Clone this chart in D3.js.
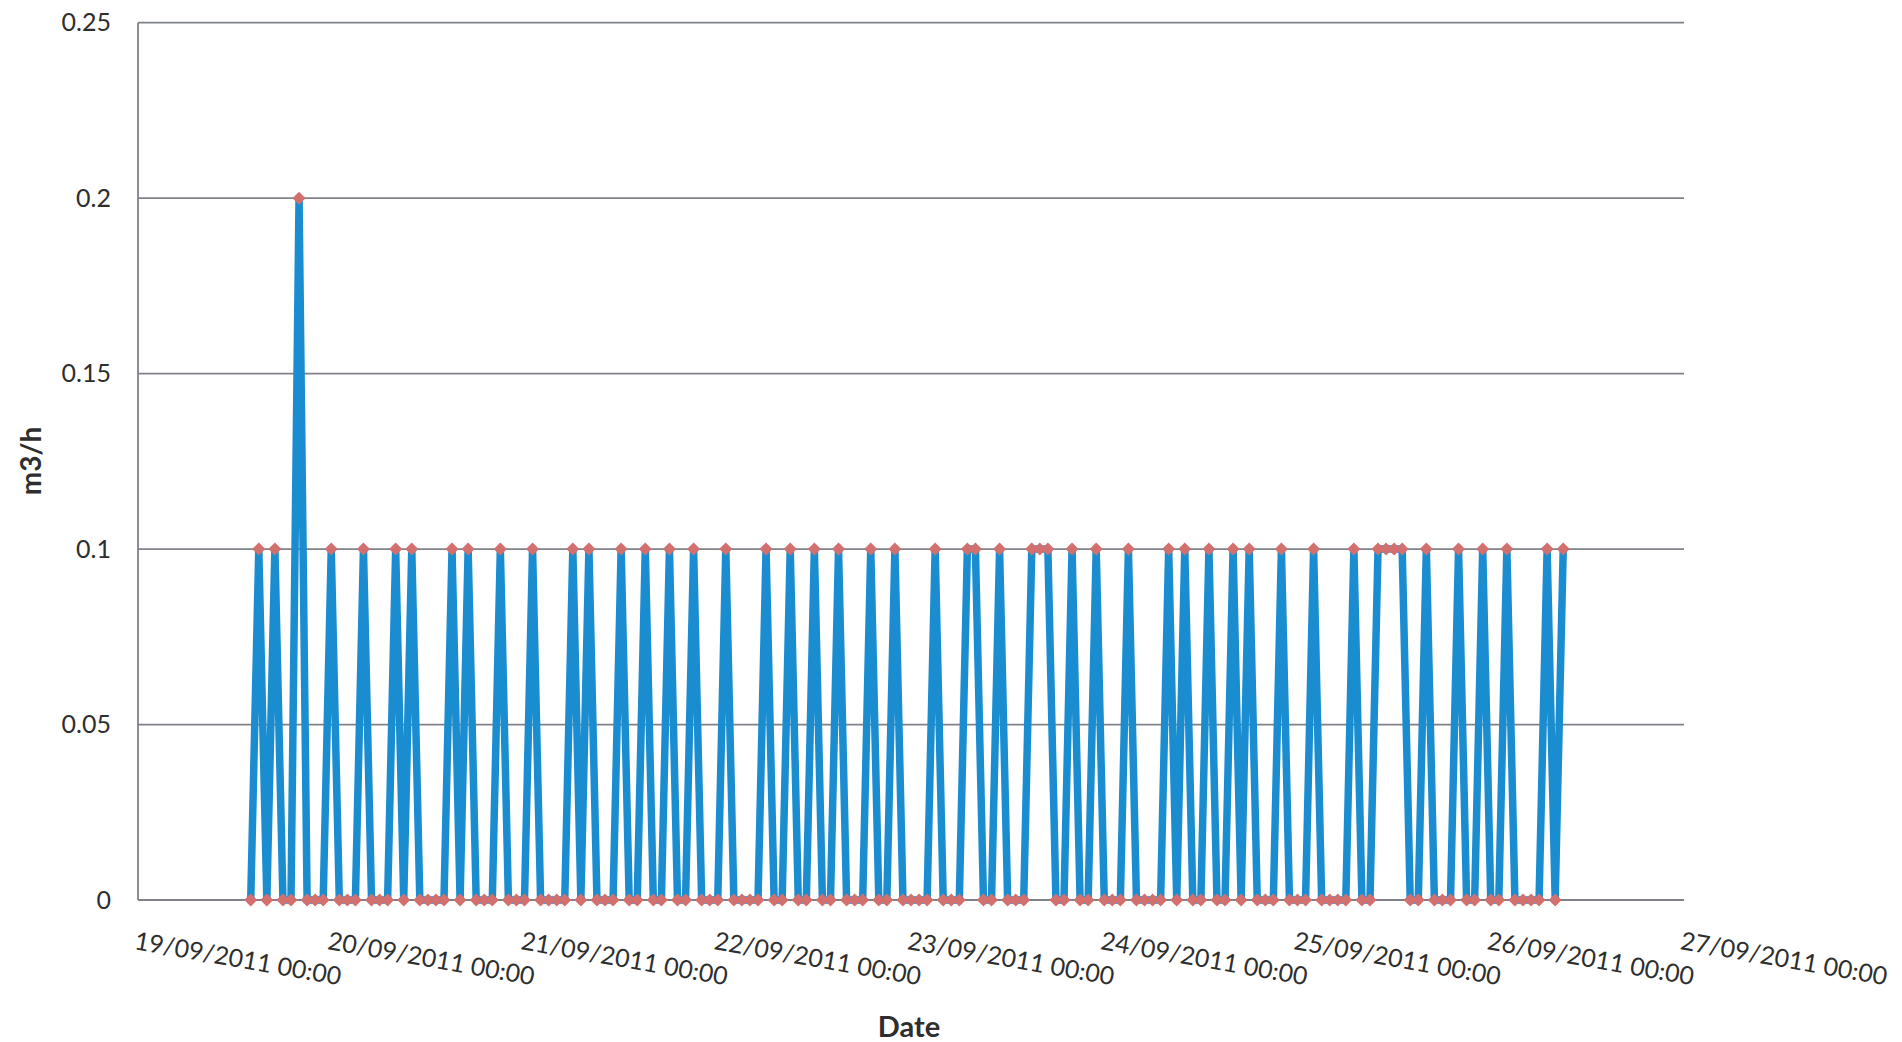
<!DOCTYPE html>
<html>
<head>
<meta charset="utf-8">
<script src="https://cdn.jsdelivr.net/npm/d3@7"></script>
<style>
  html, body { margin: 0; padding: 0; background: #ffffff; }
  svg { display: block; }
  text { font-family: Lato, "Open Sans", sans-serif; fill: #2e2e2e; }
</style>
</head>
<body>
<svg id="chart" width="1902" height="1042"></svg>
<script>
// ---- data ----
const seriesStart = "2011-09-19T14:00:00"; // first hourly reading
// hourly flow values (m3/h), one per hour from seriesStart
const flowValues = [
  // 19/09 14:00 - 23:00
  0, 0.1, 0, 0.1, 0, 0, 0.2, 0, 0, 0,
  // 20/09
  0.1, 0, 0, 0, 0.1, 0, 0, 0, 0.1, 0, 0.1, 0, 0, 0, 0, 0.1, 0, 0.1, 0, 0, 0, 0.1, 0, 0,
  // 21/09
  0, 0.1, 0, 0, 0, 0, 0.1, 0, 0.1, 0, 0, 0, 0.1, 0, 0, 0.1, 0, 0, 0.1, 0, 0, 0.1, 0, 0,
  // 22/09
  0, 0.1, 0, 0, 0, 0, 0.1, 0, 0, 0.1, 0, 0, 0.1, 0, 0, 0.1, 0, 0, 0, 0.1, 0, 0, 0.1, 0,
  // 23/09
  0, 0, 0, 0.1, 0, 0, 0, 0.1, 0.1, 0, 0, 0.1, 0, 0, 0, 0.1, 0.1, 0.1, 0, 0, 0.1, 0, 0, 0.1,
  // 24/09
  0, 0, 0, 0.1, 0, 0, 0, 0, 0.1, 0, 0.1, 0, 0, 0.1, 0, 0, 0.1, 0, 0.1, 0, 0, 0, 0.1, 0,
  // 25/09
  0, 0, 0.1, 0, 0, 0, 0, 0.1, 0, 0, 0.1, 0.1, 0.1, 0.1, 0, 0, 0.1, 0, 0, 0, 0.1, 0, 0, 0.1,
  // 26/09 00:00 - 09:00
  0, 0, 0.1, 0, 0, 0, 0, 0.1, 0, 0.1
];
const xTickLabels = ["2011-09-19", "2011-09-20", "2011-09-21", "2011-09-22", "2011-09-23",
                     "2011-09-24", "2011-09-25", "2011-09-26", "2011-09-27"];
const yTickValues = [0, 0.05, 0.1, 0.15, 0.2, 0.25];
const yAxisTitle = "m3/h";
const xAxisTitle = "Date";

// ---- build ----
const parseDT = d3.timeParse("%Y-%m-%dT%H:%M:%S");
const parseD = d3.timeParse("%Y-%m-%d");
const t0 = parseDT(seriesStart);
const points = flowValues.map((v, i) => ({ t: d3.timeHour.offset(t0, i), v: v }));
const xTicks = xTickLabels.map(parseD);

const L = 138, R = 1684, T = 22.7, B = 900;
const x = d3.scaleTime().domain([xTicks[0], xTicks[xTicks.length - 1]]).range([L, R]);
const y = d3.scaleLinear().domain([0, 0.25]).range([B, T]);

const svg = d3.select("#chart");
svg.append("rect").attr("width", 1902).attr("height", 1042).attr("fill", "#ffffff");

// gridlines
svg.append("g")
  .selectAll("line")
  .data(yTickValues)
  .join("line")
  .attr("x1", L).attr("x2", R)
  .attr("y1", d => y(d)).attr("y2", d => y(d))
  .attr("stroke", "#7f8288").attr("stroke-width", 1.8);

// left axis line
svg.append("line")
  .attr("x1", L).attr("x2", L).attr("y1", T).attr("y2", B)
  .attr("stroke", "#7f8288").attr("stroke-width", 1.8);

// y axis labels
const yAxis = svg.append("g")
  .attr("transform", `translate(${L},0)`)
  .call(d3.axisLeft(y).tickValues(yTickValues).tickSize(0).tickPadding(27).tickFormat(d3.format("")));
yAxis.select(".domain").remove();
yAxis.selectAll("text")
  .style("font-family", "Lato, 'Open Sans', sans-serif")
  .style("font-size", "25px")
  .attr("fill", "#2e2e2e");

// x axis labels (rotated)
const fmt = d3.timeFormat("%d/%m/%Y %H:%M");
const xAxis = svg.append("g")
  .attr("transform", `translate(0,${B})`)
  .call(d3.axisBottom(x).tickValues(xTicks).tickSize(0).tickFormat(fmt));
xAxis.select(".domain").remove();
xAxis.selectAll(".tick text")
  .style("font-family", "Lato, 'Open Sans', sans-serif")
  .style("font-size", "25px")
  .attr("fill", "#2e2e2e")
  .attr("text-anchor", "start")
  .attr("x", 0).attr("y", 0).attr("dy", null)
  .attr("transform", "translate(-5,49) rotate(10)");

// line
const line = d3.line().x(d => x(d.t)).y(d => y(d.v));
svg.append("path")
  .datum(points)
  .attr("d", line)
  .attr("fill", "none")
  .attr("stroke", "#1a8dd0")
  .attr("stroke-width", 7.5)
  .attr("stroke-linejoin", "round");

// markers
const diamond = d3.symbol(d3.symbolSquare, 85);
svg.append("g")
  .selectAll("path")
  .data(points)
  .join("path")
  .attr("d", diamond)
  .attr("transform", d => `translate(${x(d.t)},${y(d.v)}) rotate(45)`)
  .attr("fill", "#d2706f");

// axis titles
svg.append("text")
  .attr("transform", "translate(41,461) rotate(-90)")
  .attr("text-anchor", "middle")
  .style("font-size", "28px")
  .style("font-weight", "bold")
  .text(yAxisTitle);

svg.append("text")
  .attr("x", 909).attr("y", 1037)
  .attr("text-anchor", "middle")
  .style("font-size", "29px")
  .style("font-weight", "bold")
  .text(xAxisTitle);
</script>
</body>
</html>
